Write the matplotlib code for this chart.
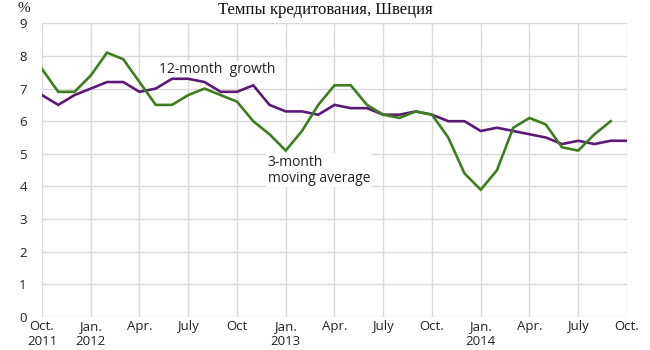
import numpy as np
import matplotlib
matplotlib.use("Agg")
import matplotlib.pyplot as plt

# monthly lending growth, Oct 2011 .. Oct 2014
months = np.arange(37)
growth_12m = [6.8, 6.5, 6.8, 7.0, 7.2, 7.2, 6.9, 7.0, 7.3, 7.3, 7.2, 6.9, 6.9,
              7.1, 6.5, 6.3, 6.3, 6.2, 6.5, 6.4, 6.4, 6.2, 6.2, 6.3, 6.2,
              6.0, 6.0, 5.7, 5.8, 5.7, 5.6, 5.5, 5.3, 5.4, 5.3, 5.4, 5.4]
avg_3m = [7.6, 6.9, 6.9, 7.4, 8.1, 7.9, 7.2, 6.5, 6.5, 6.8, 7.0, 6.8, 6.6,
          6.0, 5.6, 5.1, 5.7, 6.5, 7.1, 7.1, 6.5, 6.2, 6.1, 6.3, 6.2,
          5.5, 4.4, 3.9, 4.5, 5.8, 6.1, 5.9, 5.2, 5.1, 5.6, 6.0]

tick_pos = np.arange(0, 37, 3)
tick_labels = ["Oct.\n2011", "Jan.\n2012", "Apr.", "July", "Oct", "Jan.\n2013",
               "Apr.", "July", "Oct.", "Jan.\n2014", "Apr.", "July", "Oct."]

SANS = ["Open Sans", "DejaVu Sans"]
SERIF = ["Liberation Serif", "DejaVu Serif"]

fig = plt.figure(figsize=(6.5, 3.5), dpi=100)
ax = fig.add_axes([0.0646, 0.0943, 0.9, 0.8391])

ax.plot(months, growth_12m, color="#5a1b78", lw=1.9, solid_joinstyle="miter", zorder=3)
ax.plot(months[:len(avg_3m)], avg_3m, color="#3f7d20", lw=1.9, solid_joinstyle="miter", zorder=4)

ax.set_xlim(0, 36)
ax.set_ylim(0, 9)
ax.set_yticks(range(10))
ax.set_xticks(tick_pos)
ax.set_xticklabels(tick_labels, family=SANS, fontsize=9.5, color="#222222",
                   linespacing=1.25)
ax.set_yticklabels([str(v) for v in range(10)], family=SANS, fontsize=9.5,
                   color="#222222")
ax.tick_params(axis="both", length=0)
ax.tick_params(axis="y", pad=11)
ax.tick_params(axis="x", pad=2)
ax.grid(True, color="#d9d9d9", lw=1.0)
ax.set_axisbelow(True)
for sp in ax.spines.values():
    sp.set_visible(False)

box = dict(facecolor="white", edgecolor="none", pad=1.0)
ax.text(7.2, 7.58, "12-month  growth", family=SANS, fontsize=10, color="#222222",
        ha="left", va="center", bbox=box, zorder=2)
ax.text(13.9, 4.5, "3-month\nmoving average", family=SANS, fontsize=10,
        color="#222222", ha="left", va="center", linespacing=1.1, bbox=box,
        zorder=2)

fig.text(0.5, 0.972, "Темпы кредитования, Швеция", family=SERIF, fontsize=12,
         ha="center", va="center", color="#111111")
fig.text(0.037, 0.975, "%", family=SERIF, fontsize=11, ha="center", va="center",
         color="#111111")

fig.savefig("out.png", dpi=100)
